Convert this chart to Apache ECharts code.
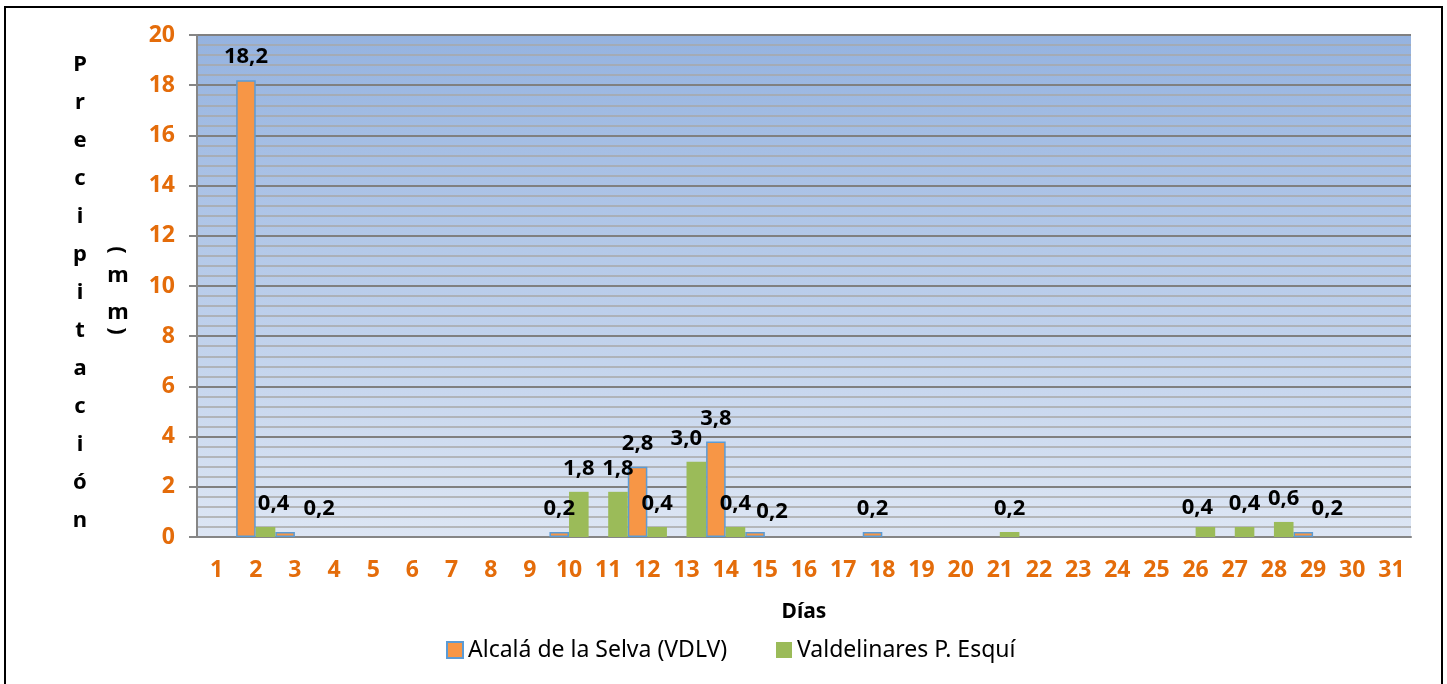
<!DOCTYPE html>
<html>
<head>
<meta charset="utf-8">
<script src="https://cdn.jsdelivr.net/npm/echarts@6/dist/echarts.min.js"></script>
<style>
html,body{margin:0;padding:0;background:#fff;}
#chart{width:1447px;height:684px;}
</style>
</head>
<body>
<div id="chart"></div>
<script>
const days = ['1','2','3','4','5','6','7','8','9','10','11','12','13','14','15','16','17','18','19','20','21','22','23','24','25','26','27','28','29','30','31'];
const alcala = [0,18.2,0.2,0,0,0,0,0,0,0.2,0,2.8,0,3.8,0.2,0,0,0.2,0,0,0,0,0,0,0,0,0,0,0.2,0,0];
const valdelinares = [0,0.4,0,0,0,0,0,0,0,1.8,1.8,0.4,3.0,0.4,0,0,0,0,0,0,0.2,0,0,0,0,0.4,0.4,0.6,0,0,0];
const yTicks = { min: 0, max: 20, step: 2 };
const seriesNames = ['Alcalá de la Selva (VDLV)', 'Valdelinares P. Esquí'];

// manual label nudges (day -> [dx, dy]) as in the reference
const alcalaLabelShift = { 3: [34, 0], 15: [17, 3], 29: [24, 0] };
const valdeLabelShift = { 2: [8, 0], 13: [-10, 0], 26: [-8, 4] };

const FONT = 'Noto Sans';
const ORANGE_TXT = '#E46C0A';

function toItems(arr, shifts) {
  return arr.map((v, i) => {
    if (v === 0) return '-';
    const s = shifts[i + 1];
    return s ? { value: v, label: { offset: s } } : v;
  });
}
const fmt = p => (p.value === 0 || p.value == null || p.value === '-') ? '' : Number(p.value).toFixed(1).replace('.', ',');

const labelStyle = {
  show: true, position: 'top', distance: 12,
  fontSize: 22, fontWeight: 'bold', color: '#000', fontFamily: FONT,
  formatter: fmt
};

const chart = echarts.init(document.getElementById('chart'));
const legendText = { fontSize: 23, color: '#000', fontFamily: FONT, lineHeight: 24 };
const titleChar = { fontSize: 22, fontWeight: 'bold', fontFamily: FONT, fill: '#000', align: 'center', verticalAlign: 'middle' };
const option = {
  animation: false,
  backgroundColor: '#fff',
  grid: {
    left: 197, right: 36, top: 35, bottom: 147,
    show: true, borderWidth: 0,
    backgroundColor: {
      type: 'linear', x: 0, y: 0, x2: 0, y2: 1,
      colorStops: [{ offset: 0, color: '#95B3E0' }, { offset: 1, color: '#DDE6F4' }]
    }
  },
  legend: [
    { data: [seriesNames[0]], left: 441, top: 633, itemWidth: 16, itemHeight: 16, icon: 'rect', textStyle: legendText },
    { data: [seriesNames[1]], left: 771, top: 633, itemWidth: 16, itemHeight: 16, icon: 'rect', textStyle: legendText }
  ],
  xAxis: {
    type: 'category', data: days,
    axisLine: { lineStyle: { color: '#868686', width: 2 } },
    axisTick: { show: false },
    axisLabel: { color: ORANGE_TXT, fontWeight: 'bold', fontSize: 23, fontFamily: FONT, margin: 22, interval: 0 },
    name: 'Días', nameLocation: 'middle', nameGap: 65,
    nameTextStyle: { fontSize: 21, fontWeight: 'bold', color: '#000', fontFamily: FONT }
  },
  yAxis: {
    type: 'value', min: yTicks.min, max: yTicks.max, interval: yTicks.step,
    axisLine: { show: true, lineStyle: { color: '#868686', width: 2 } },
    axisTick: { show: true, length: 8, lineStyle: { color: '#868686', width: 2 } },
    axisLabel: { color: ORANGE_TXT, fontWeight: 'bold', fontSize: 23, fontFamily: FONT, margin: 22 },
    splitLine: { show: true, lineStyle: { color: '#808080', width: 2 } },
    minorTick: { show: false, splitNumber: 5 },
    minorSplitLine: { show: true, lineStyle: { color: '#A8A8A8', width: 1.5 } }
  },
  series: [
    {
      name: seriesNames[0], type: 'bar', data: toItems(alcala, alcalaLabelShift),
      barGap: '0%', barCategoryGap: '0%',
      itemStyle: { color: '#F79646', borderColor: '#5B9BD5', borderWidth: 1.5 },
      label: labelStyle
    },
    {
      name: seriesNames[1], type: 'bar', data: toItems(valdelinares, valdeLabelShift),
      barGap: '0%', barCategoryGap: '0%',
      itemStyle: { color: '#9BBB59' },
      label: labelStyle
    }
  ],
  graphic: [
    {
      type: 'rect', shape: { x: 5, y: 7, width: 1437, height: 700 },
      style: { fill: 'none', stroke: '#000', lineWidth: 2 }, silent: true
    },
    {
      type: 'text', x: 80, y: 46,
      style: {
        text: 'Precipitación'.split('').join('\n'),
        fontSize: 22, fontWeight: 'bold', fontFamily: FONT, fill: '#000',
        lineHeight: 38, align: 'center', verticalAlign: 'top'
      }
    },
    { type: 'text', x: 117, y: 250, rotation: -Math.PI / 2, style: Object.assign({ text: '(' }, titleChar) },
    { type: 'text', x: 118, y: 276, style: Object.assign({ text: 'm' }, titleChar) },
    { type: 'text', x: 118, y: 313, style: Object.assign({ text: 'm' }, titleChar) },
    { type: 'text', x: 117, y: 331, rotation: -Math.PI / 2, style: Object.assign({ text: ')' }, titleChar) }
  ]
};
chart.setOption(option);
</script>
</body>
</html>
